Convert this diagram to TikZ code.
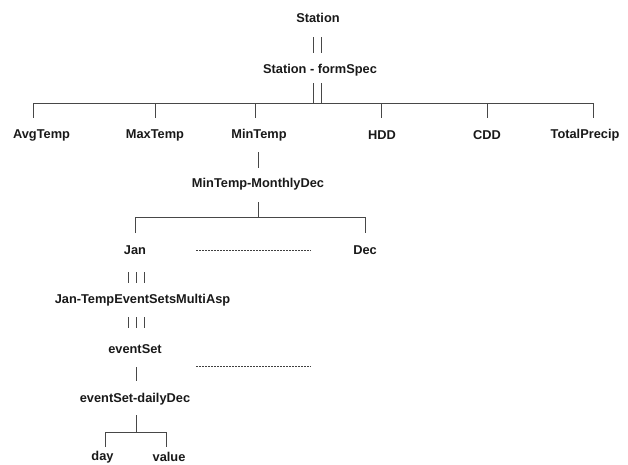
\documentclass[tikz,border=0pt]{standalone}
\usepackage{fontspec}
\setmainfont{Liberation Sans}
\begin{document}
\begin{tikzpicture}[x=1pt,y=-1pt,
  lbl/.style={font=\fontsize{12.8}{14}\selectfont\bfseries, inner sep=0pt, text=black!90},
  ln/.style={line width=0.8pt, draw=black!72},
  dots/.style={line width=0.9pt, draw=black!75, dash pattern=on 2pt off 1pt}]
\useasboundingbox (0,0) rectangle (628,464);
% nodes
\node[lbl] (station) at (318,18) {Station};
\node[lbl] (spec) at (320,70) {Station - formSpec};
\node[lbl] (avg) at (41.5,135) {AvgTemp};
\node[lbl] (max) at (155,135) {MaxTemp};
\node[lbl] (min) at (259,135) {MinTemp};
\node[lbl] (hdd) at (382,135) {HDD};
\node[lbl] (cdd) at (487,135) {CDD};
\node[lbl] (tot) at (585,135) {TotalPrecip};
\node[lbl] (mdec) at (258,184) {MinTemp-MonthlyDec};
\node[lbl] (jan) at (135,250) {Jan};
\node[lbl] (dec) at (365,250) {Dec};
\node[lbl] (multi) at (142.5,300) {Jan-TempEventSetsMultiAsp};
\node[lbl] (es) at (135,349) {eventSet};
\node[lbl] (daily) at (135,399) {eventSet-dailyDec};
\node[lbl] (day) at (102.5,457) {day};
\node[lbl] (value) at (169,457) {value};
% Station -> formSpec (double)
\foreach \x in {313,321}{
  \draw[ln] (\x,37) -- (\x,53);
  \draw[ln] (\x,83) -- (\x,103);
}
% top bar
\coordinate (barL) at (33,103);
\coordinate (barR) at (593,103);
\draw[ln] (barL) -- (barR);
\foreach \x in {33,155,255,381,487,593}{
  \draw[ln] (\x,103) -- (\x,118);
}
% MinTemp -> MonthlyDec
\draw[ln] (258,152) -- (258,168);
% MonthlyDec -> Jan/Dec
\draw[ln] (258,202) -- (258,217);
\draw[ln] (135,233) -- (135,217) -- (365,217) -- (365,233);
\draw[dots] (196,250) -- (311,250);
% triple lines
\foreach \x in {128,136,144}{
  \draw[ln] (\x,272) -- (\x,283);
  \draw[ln] (\x,317) -- (\x,328);
}
\draw[dots] (196,366) -- (311,366);
% eventSet -> dailyDec
\draw[ln] (136,367) -- (136,381);
% dailyDec -> day/value
\draw[ln] (136,415) -- (136,432);
\draw[ln] (105,447) -- (105,432) -- (166,432) -- (166,447);
\end{tikzpicture}
\end{document}
